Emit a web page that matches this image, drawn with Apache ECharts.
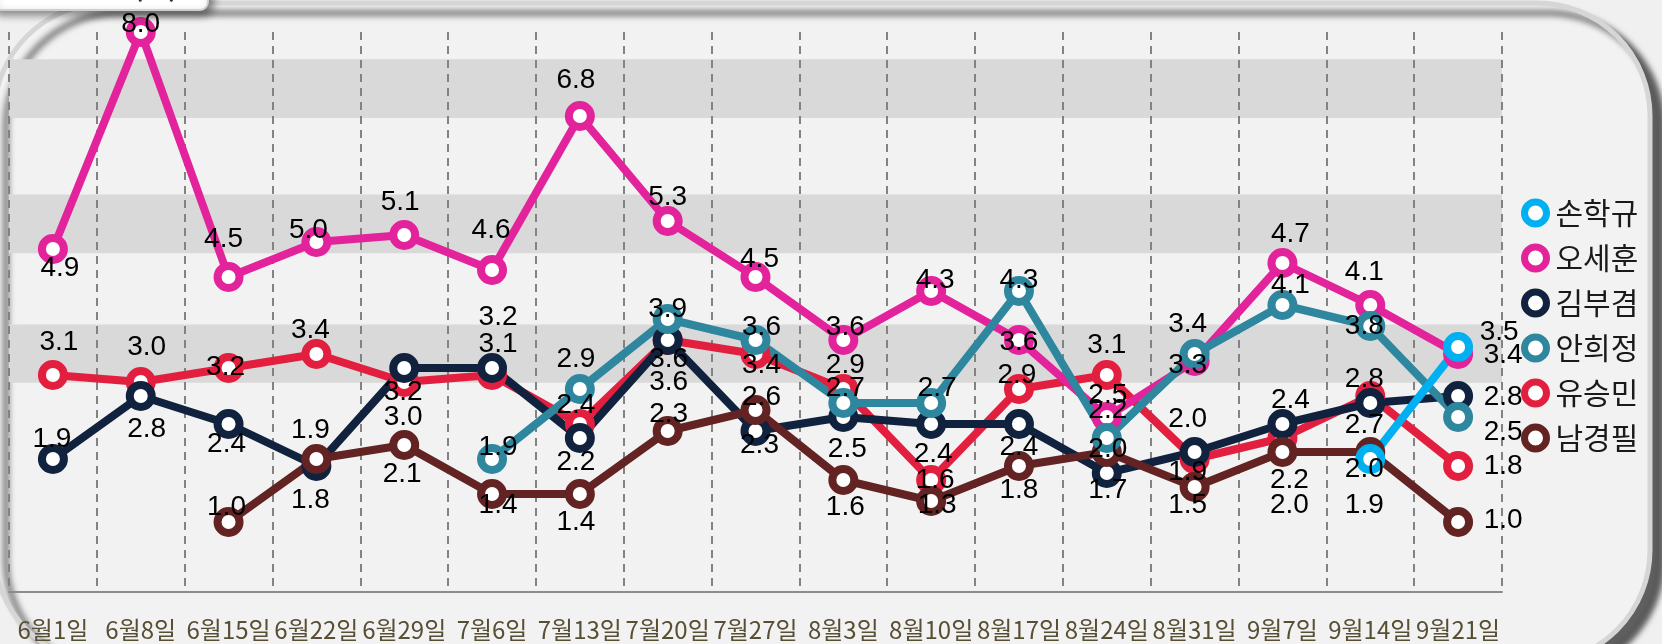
<!DOCTYPE html>
<html>
<head>
<meta charset="utf-8">
<script src="https://cdn.jsdelivr.net/npm/echarts@6/dist/echarts.min.js"></script>
<style>
  html, body { margin: 0; padding: 0; background: #f0f0f0; }
  #curve { width: 1662px; height: 644px; }
</style>
</head>
<body>
<div id="curve"></div>
<script>
// 주차별 카테고리
var categories = ['6월1일', '6월8일', '6월15일', '6월22일', '6월29일', '7월6일', '7월13일', '7월20일', '7월27일',
    '8월3일', '8월10일', '8월17일', '8월24일', '8월31일', '9월7일', '9월14일', '9월21일'];

// 후보별 지지율
var sonHakgyu   = [null, null, null, null, null, null, null, null, null, null, null, null, null, null, null, 1.9, 3.5];
var ohSehoon    = [4.9, 8.0, 4.5, 5.0, 5.1, 4.6, 6.8, 5.3, 4.5, 3.6, 4.3, 3.6, 2.5, 3.3, 4.7, 4.1, 3.4];
var kimBugyum   = [1.9, 2.8, 2.4, 1.8, 3.2, 3.2, 2.2, 3.6, 2.3, 2.5, 2.4, 2.4, 1.7, 2.0, 2.4, 2.7, 2.8];
var ahnHeejung  = [null, null, null, null, null, 1.9, 2.9, 3.9, 3.6, 2.7, 2.7, 4.3, 2.2, 3.4, 4.1, 3.8, 2.5];
var yooSeungmin = [3.1, 3.0, 3.2, 3.4, 3.0, 3.1, 2.4, 3.6, 3.4, 2.9, 1.6, 2.9, 3.1, 1.9, 2.2, 2.8, 1.8];
var namKyungpil = [null, null, 1.0, 1.9, 2.1, 1.4, 1.4, 2.3, 2.6, 1.6, 1.3, 1.8, 2.0, 1.5, 2.0, 2.0, 1.0];

// 배경 띠 (y값 구간)
var bands = [[6.77, 7.61], [4.84, 5.68], [2.99, 3.82]];

/*라벨 위치 보정 (점 중심 기준 px)*/
var labelOffsets = {
    '손학규': [null, null, null, null, null, null, null, null, null, null, null, null, null, null, null, [-6, 46], [41, -15]],
    '오세훈': [[7, 19], [0, -8], [-5, -38], [-8, -12], [-4, -33], [-1, -40], [-4, -36], [0, -24], [4, -18], [2, -13], [4, -11], [0, 2], [1, -22], [-7, 4], [8, -29], [-6, -33], [45, 1]],
    '김부겸': [[-1, -20], [6, 33], [-2, 20], [-6, 34], [-1, 24], [6, -51], [-4, 24], [1, 42], [4, 14], [4, 32], [2, 30], [0, 23], [1, 17], [-7, -33], [8, -24], [-6, 22], [45, 1]],
    '안희정': [null, null, null, null, null, [6, -12], [-4, -30], [0, -10], [6, -13], [2, -15], [6, -15], [0, -11], [1, -28], [-7, -30], [8, -20], [-6, 0], [45, 15]],
    '유승민': [[6, -33], [6, -35], [-3, -1], [-6, -24], [-1, 35], [6, -31], [-4, -19], [1, 19], [6, 11], [2, -24], [4, 0], [-2, -14], [0, -30], [-7, 13], [7, 42], [-6, -17], [45, 0]],
    '남경필': [null, null, [-2, -15], [-6, -29], [-2, 29], [6, 11], [-4, 28], [1, -17], [6, -13], [2, 27], [6, 4], [0, 24], [1, -3], [-7, 18], [7, 53], [-6, 17], [45, -2]]
};

var colors = {
    '손학규': '#00b0f0',
    '오세훈': '#e3239b',
    '김부겸': '#11223f',
    '안희정': '#2f879f',
    '유승민': '#e31f3f',
    '남경필': '#622322'
};

var legendOrder = ['손학규', '오세훈', '김부겸', '안희정', '유승민', '남경필'];
// 그리는 순서 (뒤에 있을수록 위)
var drawOrder = [
    ['유승민', yooSeungmin],
    ['김부겸', kimBugyum],
    ['남경필', namKyungpil],
    ['오세훈', ohSehoon],
    ['안희정', ahnHeejung],
    ['손학규', sonHakgyu]
];

var series = [];

// 배경 띠용 더미 시리즈
series.push({
    name: 'bands',
    type: 'line',
    data: [],
    silent: true,
    z: -1,
    markArea: {
        silent: true,
        z: -1,
        itemStyle: { color: '#d9d9d9' },
        data: bands.map(function (b) { return [{ yAxis: b[0] }, { yAxis: b[1] }]; })
    }
});

drawOrder.forEach(function (d) {
    var c = colors[d[0]];
    series.push({
        name: d[0],
        type: 'line',
        data: d[1],
        symbol: 'circle',
        symbolSize: 22,
        showSymbol: true,
        z: 2,
        emphasis: { disabled: true },
        lineStyle: { color: c, width: 8 },
        itemStyle: { color: '#fff', borderColor: c, borderWidth: 8 },
        label: { show: false }
    });
});

/*라벨 전용 시리즈 (모든 선 위에)*/
drawOrder.forEach(function (d) {
    var offs = labelOffsets[d[0]];
    series.push({
        name: d[0] + '_label',
        type: 'line',
        silent: true,
        z: 10,
        symbol: 'circle',
        symbolSize: 2,
        showSymbol: true,
        emphasis: { disabled: true },
        lineStyle: { width: 0, opacity: 0 },
        itemStyle: { color: 'rgba(0,0,0,0)', borderWidth: 0 },
        data: d[1].map(function (v, i) {
            if (v == null) return null;
            return { value: v, label: { offset: offs[i] || [0, 0] } };
        }),
        label: {
            show: true,
            position: 'inside',
            align: 'center',
            verticalAlign: 'middle',
            color: '#000',
            fontSize: 28,
            fontFamily: 'Liberation Sans, Arial, sans-serif',
            formatter: function (p) { return Number(p.value).toFixed(1); }
        }
    });
});

var myChart = echarts.init(document.getElementById('curve'), null, { renderer: 'canvas' });
var option = {
    backgroundColor: '#f0f0f0',
    animation: false,
    graphic: [
        {
            type: 'rect',
            z: -10,
            shape: { x: -6, y: 3, width: 1656, height: 660, r: 113 },
            style: {
                fill: '#f2f2f2', stroke: '#d6d6d6', lineWidth: 5,
                shadowBlur: 6, shadowColor: 'rgba(0,0,0,0.6)', shadowOffsetX: 12, shadowOffsetY: 10
            }
        },
        {
            type: 'group',
            z: 100,
            children: [
                {
                    type: 'rect',
                    z: 100,
                    shape: { x: -10, y: -30, width: 218, height: 40, r: 8 },
                    style: {
                        fill: '#ffffff', stroke: '#cfcfcf', lineWidth: 2,
                        shadowBlur: 8, shadowColor: 'rgba(0,0,0,0.45)', shadowOffsetX: 4, shadowOffsetY: 4
                    }
                },
                {
                    type: 'text',
                    z: 101,
                    left: 2,
                    top: -26,
                    style: {
                        text: '지지율 추이 (%)',
                        fill: '#333',
                        font: 'bold 26px "Noto Sans CJK KR"'
                    }
                }
            ]
        }
    ],
    legend: {
        orient: 'vertical',
        left: 1521,
        top: 198,
        padding: 0,
        itemWidth: 30,
        itemHeight: 22,
        itemGap: 15,
        icon: 'circle',
        selectedMode: false,
        textStyle: {
            fontSize: 30,
            lineHeight: 30,
            color: '#1a1a1a',
            fontFamily: 'Noto Sans CJK KR'
        },
        data: legendOrder.map(function (n) {
            return { name: n, itemStyle: { color: '#fff', borderColor: colors[n], borderWidth: 7 } };
        })
    },
    grid: {
        left: 9,
        right: 160,
        top: 32,
        bottom: 52,
        containLabel: false
    },
    /*X轴*/
    xAxis: {
        type: 'category',
        boundaryGap: true,
        data: categories,
        axisLine: { show: true, lineStyle: { color: '#8c8c8c', width: 2 } },
        axisTick: { show: false },
        splitLine: {
            show: true,
            interval: 0,
            lineStyle: { type: [8, 6], color: '#828282', width: 2 }
        },
        axisLabel: {
            interval: 0,
            margin: 26,
            color: '#574f33',
            fontSize: 24,
            lineHeight: 24,
            fontFamily: 'Noto Sans CJK KR'
        }
    },
    /*Y轴*/
    yAxis: {
        type: 'value',
        min: 0,
        max: 8,
        show: false,
        splitLine: { show: false }
    },
    series: series
};
myChart.setOption(option);
</script>
</body>
</html>
